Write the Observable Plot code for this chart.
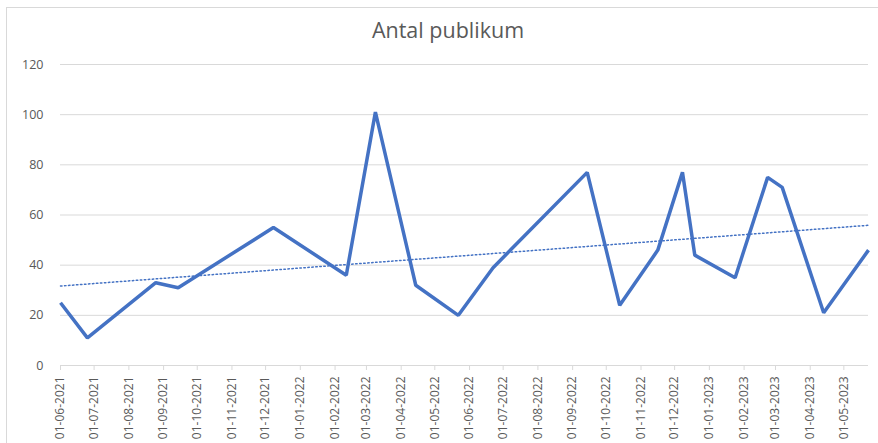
<!DOCTYPE html>
<html>
<head>
<meta charset="utf-8">
<script src="https://cdn.jsdelivr.net/npm/d3@7"></script>
<script src="https://cdn.jsdelivr.net/npm/@observablehq/plot@0.6"></script>
<style>
  html, body { margin: 0; padding: 0; background: #fff; }
  #wrap { position: relative; width: 878px; height: 443px; overflow: hidden; }
  #frame { position: absolute; left: 6px; top: 7px; width: 900px; height: 460px; border: 1px solid #d9d9d9; box-sizing: border-box; }
  #title { position: absolute; left: 0; width: 896px; top: 15px; text-align: center;
           font-family: "Open Sans", sans-serif; font-size: 21.5px; color: #595959; }
  #chart { position: absolute; left: 0; top: 0; }
</style>
</head>
<body>
<div id="wrap">
  <div id="frame"></div>
  <div id="title">Antal publikum</div>
  <div id="chart"></div>
</div>
<script>
const dates = ["2021-06-01","2021-06-25","2021-08-25","2021-09-14","2021-12-08","2022-02-11","2022-03-09","2022-04-14","2022-05-22","2022-06-22","2022-09-14","2022-10-13","2022-11-16","2022-12-08","2022-12-19","2023-01-24","2023-02-22","2023-03-07","2023-04-13","2023-05-23"];
const values = [25,11,33,31,55,36,101,32,20,39,77,24,46,77,44,35,75,71,21,46];
const yTicks = [0,20,40,60,80,100,120];
const xTickDates = ["2021-06-01","2021-07-01","2021-08-01","2021-09-01","2021-10-01","2021-11-01","2021-12-01","2022-01-01","2022-02-01","2022-03-01","2022-04-01","2022-05-01","2022-06-01","2022-07-01","2022-08-01","2022-09-01","2022-10-01","2022-11-01","2022-12-01","2023-01-01","2023-02-01","2023-03-01","2023-04-01","2023-05-01"];

const parse = d3.utcParse("%Y-%m-%d");
const data = dates.map((d, i) => ({date: parse(d), value: values[i]}));
const xt = xTickDates.map(parse);
const fmt = d3.utcFormat("%d-%m-%Y");

const plot = Plot.plot({
  width: 878,
  height: 443,
  marginLeft: 60,
  marginRight: 10,
  marginTop: 64,
  marginBottom: 78,
  style: {background: "transparent", fontFamily: "'Open Sans', sans-serif", fontSize: "12px", color: "#595959"},
  x: {type: "utc", domain: [data[0].date, data[data.length - 1].date]},
  y: {domain: [0, 120]},
  marks: [
    Plot.gridY(yTicks, {stroke: "#d9d9d9", strokeOpacity: 1, strokeWidth: 1}),
    Plot.ruleY([0], {stroke: "#d9d9d9", strokeWidth: 1}),
    Plot.axisY({ticks: yTicks, tickSize: 0, tickPadding: 17, label: null, fill: "#595959", fontSize: 12.5}),
    Plot.axisX({ticks: xt, tickFormat: fmt, tickRotate: -90, tickSize: 5, tickPadding: 6, stroke: "#d9d9d9", label: null, fill: "#595959", fontSize: 12}),
    Plot.linearRegressionY(data, {x: "date", y: "value", ci: 0, stroke: "#4472C4", strokeWidth: 1.5, strokeDasharray: "1.5,2.5"}),
    Plot.line(data, {x: "date", y: "value", stroke: "#4472C4", strokeWidth: 3.5, strokeLinejoin: "miter", strokeLinecap: "butt"})
  ]
});
document.getElementById("chart").appendChild(plot);
</script>
</body>
</html>
